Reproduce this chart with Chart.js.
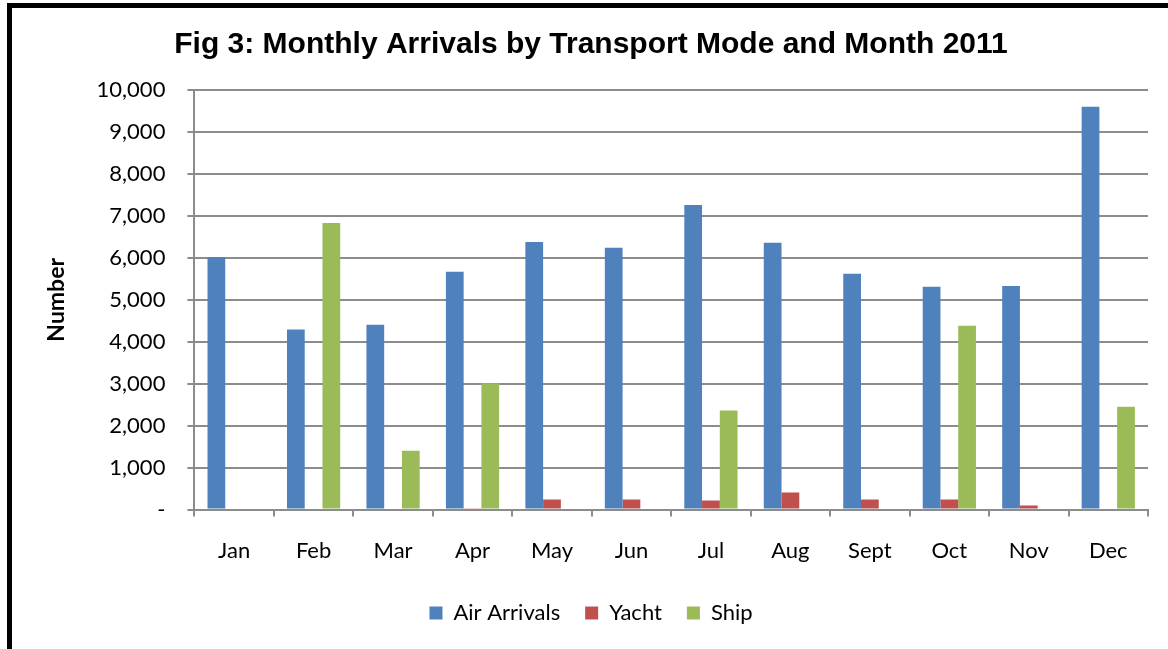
<!DOCTYPE html>
<html lang="en">
<head>
<meta charset="utf-8">
<title>Fig 3: Monthly Arrivals by Transport Mode and Month 2011</title>
<script src="https://cdn.jsdelivr.net/npm/chart.js@4.4.1/dist/chart.umd.min.js"></script>
<style>
    html, body { margin: 0; padding: 0; background: #fff; overflow: hidden; }
    #wrap { position: relative; width: 1168px; height: 649px; }
    #frame {
        position: absolute; left: 7px; top: 3px; width: 1200px; height: 700px;
        border-left: 5px solid #000; border-top: 5px solid #000;
        pointer-events: none; box-sizing: border-box;
    }
</style>
</head>
<body>
<div id="wrap">
    <canvas id="barChart" width="1168" height="649"></canvas>
    <div id="frame"></div>
</div>
<script>
"use strict"

// Data
const months = ['Jan', 'Feb', 'Mar', 'Apr', 'May', 'Jun', 'Jul', 'Aug', 'Sept', 'Oct', 'Nov', 'Dec'];
const airArrivals = [6020, 4290, 4405, 5670, 6380, 6240, 7260, 6360, 5620, 5310, 5330, 9600];
const yacht = [0, 0, 0, 30, 240, 240, 215, 405, 240, 240, 95, 0];
const ship = [0, 6830, 1405, 3010, 0, 0, 2360, 0, 0, 4380, 0, 2450];
const yTicks = [0, 1000, 2000, 3000, 4000, 5000, 6000, 7000, 8000, 9000, 10000];

const gridColor = '#8c8c8c';
const labelFont = { family: 'Lato, sans-serif', size: 22 };

/**
 * Formaterar y-axelns värden som i Excel: 0 visas som "-".
 * @param {number} value
 * @returns {string}
 */
function formatTick(value) {
    if (value === 0) {
        return '-';
    }
    return value.toLocaleString('en-US');
}

/**
 * Skapar stapeldiagrammet.
 */
function createBarChart() {
    const ctx = document.getElementById('barChart').getContext('2d');

    new Chart(ctx, {
        type: 'bar',
        data: {
            labels: months,
            datasets: [
                { label: 'Air Arrivals', data: airArrivals, backgroundColor: '#4F81BD' },
                { label: 'Yacht', data: yacht, backgroundColor: '#C0504D' },
                { label: 'Ship', data: ship, backgroundColor: '#9BBB59' }
            ]
        },
        options: {
            responsive: false,
            animation: false,
            events: [],
            categoryPercentage: 0.67,
            barPercentage: 1.0,
            layout: {
                padding: { left: 34, right: 20, top: 10, bottom: 15 }
            },
            plugins: {
                title: {
                    display: true,
                    text: 'Fig 3: Monthly Arrivals by Transport Mode and Month 2011',
                    color: '#000',
                    font: { family: '"Liberation Sans", Arial, sans-serif', size: 30, weight: 'bold' },
                    padding: { top: 17, bottom: 27 }
                },
                legend: {
                    position: 'bottom',
                    labels: {
                        boxWidth: 13,
                        boxHeight: 13,
                        padding: 25,
                        color: '#000',
                        font: labelFont
                    }
                },
                tooltip: { enabled: false }
            },
            scales: {
                x: {
                    grid: {
                        offset: true,
                        drawOnChartArea: false,
                        drawTicks: true,
                        tickLength: 7,
                        color: gridColor,
                        lineWidth: 2
                    },
                    border: { color: gridColor, width: 2 },
                    ticks: {
                        color: '#000',
                        padding: 21,
                        font: labelFont
                    },
                    // pull the legend up closer to the month labels
                    afterFit: scale => {
                        scale.height -= 8;
                    }
                },
                y: {
                    min: 0,
                    max: 10000,
                    afterBuildTicks: scale => {
                        scale.ticks = yTicks.map(v => ({ value: v }));
                    },
                    grid: {
                        color: gridColor,
                        lineWidth: 2,
                        drawTicks: true,
                        tickLength: 7
                    },
                    border: { color: gridColor, width: 2 },
                    ticks: {
                        color: '#000',
                        padding: 22,
                        font: labelFont,
                        callback: value => formatTick(value)
                    },
                    title: {
                        display: true,
                        text: 'Number',
                        color: '#000',
                        font: { family: 'Lato, sans-serif', size: 23, weight: 'bold' },
                        padding: { top: 9, bottom: 4 }
                    }
                }
            }
        }
    });
}

createBarChart();
</script>
</body>
</html>
